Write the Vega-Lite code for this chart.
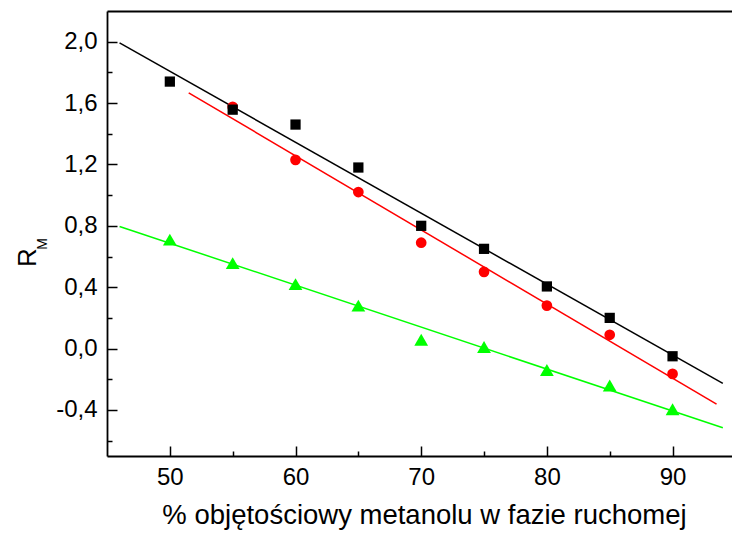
{
  "$schema": "https://vega.github.io/schema/vega-lite/v6.json",
  "autosize": {"type": "none"},
  "width": 625,
  "height": 445,
  "padding": {"left": 107, "top": 11, "right": 0, "bottom": 81},
  "background": "white",
  "config": {
    "view": {"stroke": null},
    "font": "Liberation Sans",
    "axis": {"grid": false, "domainColor": "black", "domainWidth": 1.8, "tickColor": "black", "tickWidth": 1.5, "labelColor": "black", "titleColor": "black", "labelFont": "Liberation Sans", "titleFont": "Liberation Sans", "titleFontWeight": "normal"}
  },
  "datasets": {
    "pts": [
      {"series": "red", "x": 55, "y": 1.575},
      {"series": "red", "x": 60, "y": 1.23},
      {"series": "red", "x": 65, "y": 1.02},
      {"series": "red", "x": 70, "y": 0.69},
      {"series": "red", "x": 75, "y": 0.50},
      {"series": "red", "x": 80, "y": 0.28},
      {"series": "red", "x": 85, "y": 0.09},
      {"series": "red", "x": 90, "y": -0.165},
      {"series": "green", "x": 50, "y": 0.71},
      {"series": "green", "x": 55, "y": 0.557},
      {"series": "green", "x": 60, "y": 0.42},
      {"series": "green", "x": 65, "y": 0.28},
      {"series": "green", "x": 70, "y": 0.057},
      {"series": "green", "x": 75, "y": 0.01},
      {"series": "green", "x": 80, "y": -0.14},
      {"series": "green", "x": 85, "y": -0.24},
      {"series": "green", "x": 90, "y": -0.395},
      {"series": "black", "x": 50, "y": 1.74},
      {"series": "black", "x": 55, "y": 1.557},
      {"series": "black", "x": 60, "y": 1.46},
      {"series": "black", "x": 65, "y": 1.18},
      {"series": "black", "x": 70, "y": 0.80},
      {"series": "black", "x": 75, "y": 0.65},
      {"series": "black", "x": 80, "y": 0.405},
      {"series": "black", "x": 85, "y": 0.20},
      {"series": "black", "x": 90, "y": -0.05}
    ]
  },
  "resolve": {"axis": {"x": "independent", "y": "independent"}},
  "layer": [
    {
      "data": {"name": "pts"},
      "transform": [
        {"filter": "datum.series !== 'red'"},
        {"regression": "y", "on": "x", "groupby": ["series"], "extent": [46, 94]}
      ],
      "mark": {"type": "line", "strokeWidth": 1.5},
      "encoding": {
        "x": {
          "field": "x", "type": "quantitative",
          "scale": {"domain": [45, 94.73], "nice": false, "zero": false},
          "axis": {
            "orient": "bottom",
            "values": [50, 55, 60, 65, 70, 75, 80, 85, 90],
            "tickSize": {"condition": {"test": "datum.value % 10 === 0", "value": -10}, "value": -5},
            "labelPadding": 38,
            "labelBaseline": "alphabetic",
            "labelExpr": "datum.value % 10 === 0 ? datum.label : ''",
            "labelFontSize": 24,
            "labelFlush": false,
            "labelOverlap": false,
            "title": "% objętościowy metanolu w fazie ruchomej",
            "titleFontSize": 27.5,
            "titleX": 317,
            "titleY": 67,
            "titleBaseline": "alphabetic",
            "titleAlign": "center"
          }
        },
        "y": {
          "field": "y", "type": "quantitative",
          "scale": {"domain": [-0.7, 2.2], "nice": false, "zero": false},
          "axis": {
            "orient": "left",
            "values": [-0.6, -0.4, -0.2, 0, 0.2, 0.4, 0.6, 0.8, 1.0, 1.2, 1.4, 1.6, 1.8, 2.0],
            "format": ".1f",
            "tickSize": {"condition": {"test": "abs(round(datum.value*10)) % 4 === 0", "value": -10}, "value": -5},
            "labelPadding": 20,
            "labelExpr": "abs(round(datum.value*10)) % 4 === 0 ? replace(replace(datum.label, '.', ','), '\u2212', '-') : ''",
            "labelFontSize": 24,
            "labelFlush": false,
            "labelOverlap": false,
            "title": "R",
            "titleFontSize": 26,
            "titleAngle": -90,
            "titleX": -72,
            "titleY": 246,
            "titleBaseline": "alphabetic",
            "titleAlign": "center"
          }
        },
        "color": {"field": "series", "type": "nominal", "scale": {"domain": ["black", "red", "green"], "range": ["#000000", "#ff0000", "#00ff00"]}, "legend": null}
      }
    },
    {
      "data": {"name": "pts"},
      "transform": [
        {"filter": "datum.series === 'red'"},
        {"regression": "y", "on": "x", "groupby": ["series"], "extent": [51.5, 93.5]}
      ],
      "mark": {"type": "line", "strokeWidth": 1.5},
      "encoding": {
        "x": {"field": "x", "type": "quantitative", "axis": null},
        "y": {"field": "y", "type": "quantitative", "axis": null},
        "color": {"field": "series", "type": "nominal", "legend": null}
      }
    },
    {
      "data": {"name": "pts"},
      "mark": {"type": "point", "filled": true, "opacity": 1},
      "encoding": {
        "x": {"field": "x", "type": "quantitative",
          "axis": {"orient": "top", "domain": true, "ticks": false, "labels": false, "title": null, "grid": false}},
        "y": {"field": "y", "type": "quantitative",
          "axis": {"orient": "left", "domain": false, "ticks": false, "labels": false, "grid": false,
            "title": "M", "titleFontSize": 14, "titleAngle": -90, "titleX": -61, "titleY": 232.5, "titleBaseline": "alphabetic", "titleAlign": "center"}},
        "color": {"field": "series", "type": "nominal", "legend": null},
        "shape": {"field": "series", "type": "nominal", "scale": {"domain": ["black", "red", "green"], "range": ["square", "circle", "triangle-up"]}, "legend": null},
        "size": {"field": "series", "type": "nominal", "scale": {"type": "ordinal", "domain": ["black", "red", "green"], "range": [105, 115, 190]}, "legend": null}
      }
    }
  ]
}
